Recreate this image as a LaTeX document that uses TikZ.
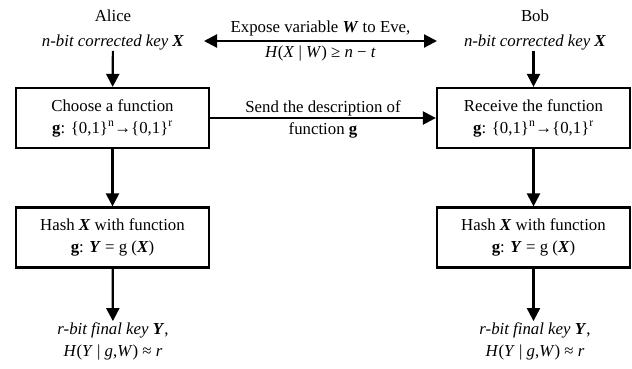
\documentclass[tikz,border=0pt]{standalone}
\usepackage{fontspec}
\setmainfont{Liberation Serif}
\usetikzlibrary{arrows.meta,positioning}
\tikzset{
  txt/.style={align=center, font=\fontsize{16.8}{22}\selectfont, inner sep=1pt},
  stepbox/.style={draw, line width=2.2pt, minimum width=193pt, minimum height=60pt, txt},
  flow/.style={line width=2.2pt, -{Triangle[length=13pt,width=13pt]}},
}
\newcommand{\bi}[1]{\textbf{\textit{#1}}}
\begin{document}
\begin{tikzpicture}[x=1pt,y=-1pt]
    \useasboundingbox (0,0) rectangle (632,368);
    % Alice side
    \node[txt, font=\fontsize{16.8}{25}\selectfont] (alice)  at (113,29.5) {Alice\\ \textit{n-bit corrected key} \bi{X}};
    \node[stepbox] (choose) at (112.5,118)   {Choose a function\\ \textbf{g}: \{0,1\}\textsuperscript{n}→\{0,1\}\textsuperscript{r}};
    \node[stepbox] (hashA)  at (112.5,237.5) {Hash \bi{X} with function\\ \textbf{g}: \bi{Y} = g (\bi{X})};
    \node[txt]     (finalA) at (113,341)     {\textit{r-bit final key} \bi{Y},\\ \textit{H}(\textit{Y} | \textit{g},\textit{W}) ≈ \textit{r}};
    % Bob side
    \node[txt, font=\fontsize{16.8}{25}\selectfont] (bob)  at (535,29.5) {Bob\\ \textit{n-bit corrected key} \bi{X}};
    \node[stepbox] (receive) at (533.5,118)   {Receive the function\\ \textbf{g}: \{0,1\}\textsuperscript{n}→\{0,1\}\textsuperscript{r}};
    \node[stepbox] (hashB)   at (533.5,237.5) {Hash \bi{X} with function\\ \textbf{g}: \bi{Y} = g (\bi{X})};
    \node[txt]     (finalB)  at (535,341)     {\textit{r-bit final key} \bi{Y},\\ \textit{H}(\textit{Y} | \textit{g},\textit{W}) ≈ \textit{r}};
    % exposure to Eve
    \coordinate (evel) at (204,41);
    \coordinate (ever) at (437,41);
    \draw[flow, {Triangle[length=13pt,width=13pt]}-{Triangle[length=13pt,width=13pt]}] (evel) -- (ever)
        node[midway, above=3pt, txt] (expose) {Expose variable \bi{W} to Eve,}
        node[midway, below=3pt, txt] (bound) {\textit{H}(\textit{X} | \textit{W}) ≥ \textit{n} − \textit{t}};
    % description of g
    \draw[flow] (choose) -- (receive)
        node[midway, above=0pt, txt] (send) {Send the description of}
        node[midway, below=3pt, txt] (sendg) {function \textbf{g}};
    % vertical flow
    \draw[flow] (alice) -- (choose);
    \draw[flow] (choose) -- (hashA);
    \draw[flow] (hashA) -- (finalA);
    \draw[flow] (bob.south -| receive) -- (receive);
    \draw[flow] (receive) -- (hashB);
    \draw[flow] (hashB) -- (finalB.north -| hashB);
\end{tikzpicture}
\end{document}
